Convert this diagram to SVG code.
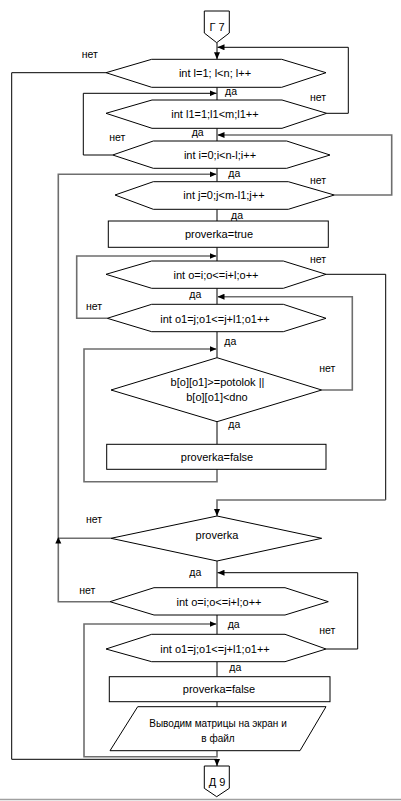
<svg xmlns="http://www.w3.org/2000/svg" width="401" height="801" viewBox="0 0 401 801">
<defs>
<marker id="ah" markerWidth="7" markerHeight="6" refX="7" refY="3" orient="auto" markerUnits="userSpaceOnUse"><path d="M0,0 L7,3 L0,6 Z" fill="#000"/></marker>
<style>
.n{fill:#fff;stroke:#000;stroke-width:1}
.t{font-family:"Liberation Sans",Arial,sans-serif;font-size:11px;fill:#000;text-anchor:middle}
.tp{font-family:"Liberation Sans",Arial,sans-serif;font-size:10px;fill:#000;text-anchor:middle}
.l{font-family:"Liberation Sans",Arial,sans-serif;font-size:10.5px;fill:#000}
.c{fill:none;stroke:#000;stroke-width:1}
.g{fill:none;stroke:#6e6e6e;stroke-width:1.6}
.a{marker-end:url(#ah)}
</style>
</defs>
<rect width="401" height="801" fill="#fff"/>
<g id="connectors">
<line class="c a" x1="217" y1="42.7" x2="217" y2="59.3"/>
<line class="c" x1="217" y1="87.3" x2="217" y2="100"/>
<line class="c" x1="217" y1="128.3" x2="217" y2="141"/>
<line class="c" x1="217" y1="168.3" x2="217" y2="181.7"/>
<line class="c" x1="217" y1="209.3" x2="217" y2="221"/>
<line class="c" x1="217" y1="247.3" x2="217" y2="261"/>
<line class="c" x1="217" y1="288.3" x2="217" y2="304.3"/>
<line class="c" x1="217" y1="331.7" x2="217" y2="357.7"/>
<line class="c" x1="217" y1="421.7" x2="217" y2="444.3"/>
<line class="c" x1="217" y1="561" x2="217" y2="587.7"/>
<line class="c" x1="217" y1="615" x2="217" y2="634.3"/>
<line class="c" x1="217" y1="661.7" x2="217" y2="676.7"/>
<line class="c" x1="217" y1="701.7" x2="217" y2="706.7"/>
<polyline class="c a" points="326.7,113.3 348.3,113.3 348.3,47.3 217.5,47.3"/>
<polyline class="c a" points="106,72.7 11.7,72.7 11.7,759.3 217,759.3 217,766"/>
<polyline class="c a" points="112.7,155 83.3,155 83.3,93.3 216.5,93.3"/>
<polyline class="g a" points="334.3,195 391.7,195 391.7,135 217.5,135"/>
<polyline class="g a" points="110,601.7 58.3,601.7 58.3,174.3 216.5,174.3"/>
<line class="g" x1="111" y1="538.3" x2="58.3" y2="538.3"/>
<path d="M58.3,537 L55.3,543.5 L61.3,543.5 Z" fill="#000"/>
<polyline class="g a" points="107.3,318.3 76.7,318.3 76.7,256 216.5,256"/>
<polyline class="c" points="326,274.3 385.7,274.3 385.7,500"/>
<polyline class="g a" points="385.7,500 217,500 217,516"/>
<polyline class="g a" points="321.7,390 352.3,390 352.3,296.7 217.5,296.7"/>
<polyline class="g a" points="217,469.3 217,481.7 84,481.7 84,349 216.5,349"/>
<polyline class="c a" points="326,649 357.7,649 357.7,572.7 217.5,572.7"/>
<polyline class="g a" points="217,750.7 217,756.7 84,756.7 84,624 216.5,624"/>
</g>
<g id="start"><polygon class="n" points="204.3,11 229.3,11 229.3,33 216.7,42.7 204.3,33"/><text class="t" x="217" y="30.5">Г 7</text></g>
<g id="loop-l"><polygon class="n" points="106,72.7 151.7,59.3 281.7,59.3 326,72.7 281.7,87.3 151.7,87.3"/><text class="t" x="215" y="77">int l=1; l&lt;n; l++</text></g>
<g id="loop-l1"><polygon class="n" points="106,113.3 152,100 282,100 326.7,113.3 282,128.3 152,128.3"/><text class="t" x="215" y="117.5">int l1=1;l1&lt;m;l1++</text></g>
<g id="loop-i"><polygon class="n" points="112.7,155 153.3,141 286.7,141 330,155 286.7,168.3 153.3,168.3"/><text class="t" x="220" y="159">int i=0;i&lt;n-l;i++</text></g>
<g id="loop-j"><polygon class="n" points="115,195 153.3,181.7 288.3,181.7 334.3,195 288.3,209.3 153.3,209.3"/><text class="t" x="224" y="199">int j=0;j&lt;m-l1;j++</text></g>
<g id="set-true"><rect class="n" x="108.3" y="221" width="220" height="26.3"/><text class="t" x="219" y="238">proverka=true</text></g>
<g id="loop-o"><polygon class="n" points="106,274.3 151.7,261 283.3,261 326,274.3 283.3,288.3 151.7,288.3"/><text class="t" x="216" y="278.5">int o=i;o&lt;=i+l;o++</text></g>
<g id="loop-o1"><polygon class="n" points="107.3,318.3 151.7,304.3 283.3,304.3 326,318.3 283.3,331.7 151.7,331.7"/><text class="t" x="215" y="322.5">int o1=j;o1&lt;=j+l1;o1++</text></g>
<g id="check"><polygon class="n" points="217,357.7 321.7,390 217,421.7 111,390"/><text class="t" x="217.5" y="386">b[o][o1]&gt;=potolok ||</text><text class="t" x="217" y="400.5">b[o][o1]&lt;dno</text></g>
<g id="set-false-1"><rect class="n" x="106.7" y="444.3" width="219.3" height="25"/><text class="t" x="217" y="460.5">proverka=false</text></g>
<g id="proverka"><polygon class="n" points="217,516 321.7,538.3 217,561 111,538.3"/><text class="t" x="217" y="539">proverka</text></g>
<g id="loop-o-2"><polygon class="n" points="110,601.7 154,587.7 285,587.7 328.3,601.7 285,615 154,615"/><text class="t" x="219" y="605.5">int o=i;o&lt;=i+l;o++</text></g>
<g id="loop-o1-2"><polygon class="n" points="106,649 151.7,634.3 285,634.3 326,649 285,661.7 151.7,661.7"/><text class="t" x="215" y="653">int o1=j;o1&lt;=j+l1;o1++</text></g>
<g id="set-false-2"><rect class="n" x="109.3" y="676.7" width="220.7" height="25"/><text class="t" x="219" y="693">proverka=false</text></g>
<g id="output"><polygon class="n" points="137.7,706.7 326,706.7 300,750.7 110,750.7"/><text class="tp" x="218" y="726.5">Выводим матрицы на экран и</text><text class="tp" x="218" y="741.5">в файл</text></g>
<g id="end"><polygon class="n" points="204.3,766 229.3,766 229.3,788.3 216.7,796.7 204.3,788.3"/><text class="t" x="217" y="785.5">Д 9</text></g>
<g id="labels">
<text class="l" x="81.7" y="58">нет</text>
<text class="l" x="225" y="95">да</text>
<text class="l" x="310" y="101">нет</text>
<text class="l" x="191.7" y="136">да</text>
<text class="l" x="109.3" y="141">нет</text>
<text class="l" x="228.3" y="176.5">да</text>
<text class="l" x="310" y="183.5">нет</text>
<text class="l" x="231" y="218.5">да</text>
<text class="l" x="310" y="262.5">нет</text>
<text class="l" x="189.3" y="297.5">да</text>
<text class="l" x="86" y="310">нет</text>
<text class="l" x="224.3" y="345">да</text>
<text class="l" x="319.3" y="372">нет</text>
<text class="l" x="228.3" y="427.5">да</text>
<text class="l" x="86" y="522.5">нет</text>
<text class="l" x="189.3" y="576">да</text>
<text class="l" x="79.3" y="594">нет</text>
<text class="l" x="227.7" y="627.5">да</text>
<text class="l" x="319.3" y="633.5">нет</text>
<text class="l" x="229.3" y="671">да</text>
</g>
<line x1="0" y1="799.5" x2="401" y2="799.5" stroke="#a0a0a0" stroke-width="1.5"/>
</svg>
